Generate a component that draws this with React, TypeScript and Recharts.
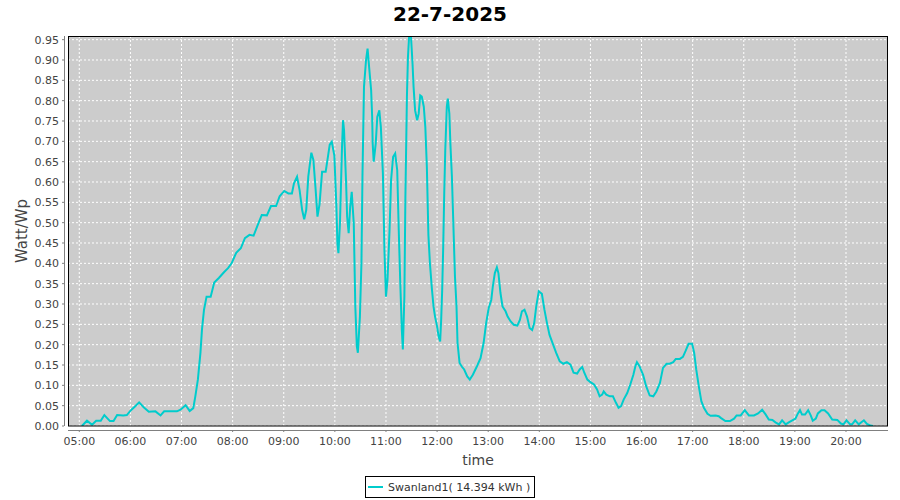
import { LineChart, Line, XAxis, YAxis, CartesianGrid } from "recharts";

// time of day in decimal hours
const hours = [
  5.05, 5.15, 5.25, 5.33, 5.42, 5.49, 5.6, 5.67, 5.74, 5.86, 5.93, 6.01, 6.1, 6.17, 6.26, 6.36, 6.49, 6.59,
  6.66, 6.78, 6.91, 6.98, 7.08, 7.16, 7.23, 7.27, 7.32, 7.37, 7.4, 7.44, 7.49, 7.57, 7.64, 7.73, 7.83, 7.91,
  7.98, 8.07, 8.16, 8.24, 8.33, 8.41, 8.49, 8.57, 8.67, 8.75, 8.85, 8.92, 9.01, 9.09, 9.16, 9.2, 9.26, 9.31,
  9.36, 9.4, 9.44, 9.48, 9.54, 9.58, 9.62, 9.66, 9.7, 9.75, 9.82, 9.9, 9.94, 9.99, 10.03, 10.05, 10.07, 10.1,
  10.14, 10.16, 10.18, 10.22, 10.24, 10.27, 10.3, 10.33, 10.37, 10.4, 10.43, 10.45, 10.49, 10.52, 10.54,
  10.57, 10.61, 10.64, 10.67, 10.71, 10.73, 10.74, 10.76, 10.8, 10.83, 10.87, 10.9, 10.94, 10.97, 11.0,
  11.03, 11.07, 11.1, 11.14, 11.18, 11.22, 11.25, 11.28, 11.31, 11.33, 11.36, 11.38, 11.41, 11.43, 11.46,
  11.49, 11.52, 11.54, 11.57, 11.61, 11.64, 11.67, 11.7, 11.74, 11.77, 11.8, 11.83, 11.86, 11.9, 11.93,
  11.96, 12.0, 12.03, 12.06, 12.08, 12.1, 12.12, 12.14, 12.16, 12.19, 12.21, 12.24, 12.26, 12.29, 12.31,
  12.33, 12.35, 12.38, 12.4, 12.44, 12.49, 12.53, 12.59, 12.64, 12.7, 12.78, 12.85, 12.91, 12.96, 13.01,
  13.06, 13.09, 13.13, 13.17, 13.2, 13.24, 13.28, 13.34, 13.38, 13.44, 13.5, 13.57, 13.62, 13.66, 13.71,
  13.76, 13.81, 13.86, 13.9, 13.94, 13.99, 14.05, 14.1, 14.15, 14.2, 14.27, 14.33, 14.4, 14.47, 14.54,
  14.61, 14.67, 14.74, 14.79, 14.84, 14.88, 14.94, 15.0, 15.07, 15.13, 15.18, 15.23, 15.26, 15.31, 15.38,
  15.44, 15.5, 15.55, 15.6, 15.65, 15.72, 15.78, 15.84, 15.88, 15.91, 15.96, 16.03, 16.09, 16.16, 16.23,
  16.29, 16.36, 16.42, 16.49, 16.55, 16.62, 16.67, 16.75, 16.81, 16.86, 16.92, 16.99, 17.03, 17.07, 17.12,
  17.17, 17.22, 17.29, 17.35, 17.45, 17.51, 17.55, 17.64, 17.73, 17.81, 17.86, 17.94, 18.02, 18.1, 18.2,
  18.28, 18.36, 18.43, 18.49, 18.56, 18.62, 18.69, 18.75, 18.82, 18.88, 18.95, 19.01, 19.06, 19.1, 19.14,
  19.2, 19.26, 19.31, 19.35, 19.41, 19.45, 19.52, 19.58, 19.65, 19.73, 19.83, 19.9, 19.95, 20.01, 20.08,
  20.12, 20.18, 20.25, 20.35, 20.41, 20.48, 20.53,
];

// Watt/Wp for each time above
const watts = [
  0.0, 0.013, 0.003, 0.013, 0.013, 0.027, 0.012, 0.012, 0.027, 0.026, 0.027, 0.039, 0.049, 0.058, 0.046,
  0.035, 0.036, 0.026, 0.036, 0.036, 0.036, 0.04, 0.051, 0.037, 0.044, 0.073, 0.114, 0.18, 0.237, 0.286,
  0.318, 0.318, 0.353, 0.364, 0.378, 0.388, 0.4, 0.426, 0.437, 0.462, 0.47, 0.468, 0.494, 0.519, 0.518,
  0.541, 0.541, 0.565, 0.578, 0.572, 0.572, 0.597, 0.613, 0.58, 0.531, 0.508, 0.531, 0.613, 0.672, 0.654,
  0.588, 0.515, 0.545, 0.625, 0.625, 0.692, 0.699, 0.665, 0.54, 0.449, 0.425, 0.5, 0.686, 0.752, 0.727,
  0.597, 0.515, 0.474, 0.539, 0.576, 0.498, 0.294, 0.196, 0.18, 0.269, 0.4, 0.613, 0.834, 0.9, 0.928, 0.883,
  0.825, 0.76, 0.695, 0.65, 0.695, 0.76, 0.776, 0.735, 0.621, 0.433, 0.318, 0.359, 0.482, 0.605, 0.662,
  0.67, 0.629, 0.482, 0.351, 0.237, 0.188, 0.318, 0.564, 0.81, 0.907, 0.975, 0.956, 0.89, 0.834, 0.776,
  0.752, 0.768, 0.813, 0.81, 0.785, 0.735, 0.637, 0.47, 0.4, 0.335, 0.294, 0.269, 0.245, 0.22, 0.208, 0.261,
  0.335, 0.441, 0.572, 0.678, 0.785, 0.805, 0.768, 0.695, 0.613, 0.531, 0.449, 0.367, 0.294, 0.204, 0.155,
  0.145, 0.139, 0.122, 0.114, 0.126, 0.147, 0.167, 0.204, 0.253, 0.29, 0.31, 0.343, 0.376, 0.39, 0.376,
  0.327, 0.294, 0.282, 0.269, 0.257, 0.249, 0.247, 0.261, 0.282, 0.286, 0.269, 0.241, 0.236, 0.253, 0.294,
  0.331, 0.325, 0.286, 0.253, 0.224, 0.2, 0.18, 0.159, 0.153, 0.157, 0.151, 0.131, 0.129, 0.139, 0.145,
  0.131, 0.114, 0.108, 0.102, 0.09, 0.073, 0.077, 0.085, 0.077, 0.073, 0.073, 0.057, 0.045, 0.049, 0.065,
  0.081, 0.102, 0.126, 0.147, 0.157, 0.147, 0.126, 0.098, 0.075, 0.073, 0.085, 0.106, 0.143, 0.153, 0.153,
  0.157, 0.165, 0.165, 0.17, 0.184, 0.202, 0.202, 0.18, 0.139, 0.098, 0.061, 0.045, 0.03, 0.025, 0.026,
  0.024, 0.02, 0.012, 0.012, 0.018, 0.026, 0.026, 0.039, 0.026, 0.026, 0.031, 0.04, 0.028, 0.016, 0.015,
  0.009, 0.004, 0.014, 0.004, 0.009, 0.014, 0.018, 0.031, 0.039, 0.028, 0.028, 0.039, 0.026, 0.013, 0.018,
  0.031, 0.039, 0.039, 0.031, 0.016, 0.015, 0.006, 0.004, 0.014, 0.004, 0.004, 0.014, 0.004, 0.014, 0.005,
  0.001, 0.0,
];

const hourTicks = [5, 6, 7, 8, 9, 10, 11, 12, 13, 14, 15, 16, 17, 18, 19, 20];
const wattTicks = [
  0, 0.05, 0.1, 0.15, 0.2, 0.25, 0.3, 0.35, 0.4, 0.45, 0.5, 0.55, 0.6, 0.65, 0.7, 0.75, 0.8, 0.85, 0.9, 0.95,
];

const title = "22-7-2025";
const seriesName = "Swanland1( 14.394 kWh )";

const data = hours.map((h, i) => ({ h, w: watts[i] }));

const FONT = "'DejaVu Sans', sans-serif";
const CYAN = "#00cccc";

function YTick(props: any) {
  const { x, y, payload } = props;
  return (
    <g>
      <line x1={x - 6} x2={x - 4} y1={y} y2={y} stroke="#808080" />
      <text x={x - 9} y={y + 4} textAnchor="end" fontSize={11} fill="#444" fontFamily={FONT}>
        {Number(payload.value).toFixed(2)}
      </text>
    </g>
  );
}

function XTick(props: any) {
  const { x, y, payload } = props;
  const label = String(payload.value).padStart(2, "0") + ":00";
  return (
    <g>
      <line x1={x} x2={x} y1={y + 4} y2={y + 6} stroke="#808080" />
      <text x={x} y={y + 19} textAnchor="middle" fontSize={11} fill="#444" fontFamily={FONT}>
        {label}
      </text>
    </g>
  );
}

export default function App() {
  return (
    <div style={{ position: "absolute", left: 0, top: 0, width: 900, height: 500, background: "#fff" }}>
      <LineChart
        width={900}
        height={500}
        data={data}
        margin={{ top: 36, right: 12, bottom: 44, left: 8 }}
      >
        <CartesianGrid stroke="#ffffff" strokeDasharray="2 2" fill="#cccccc" fillOpacity={1} />
        <XAxis
          dataKey="h"
          type="number"
          domain={[4.779, 20.822]}
          ticks={hourTicks}
          interval={0}
          allowDataOverflow
          height={30}
          tickSize={0}
          tickMargin={0}
          axisLine={false}
          tickLine={false}
          tick={<XTick />}
          label={{
            content: (p: any) => (
              <text
                x={p.viewBox.x + p.viewBox.width / 2}
                y={p.viewBox.y + 39}
                textAnchor="middle"
                fontSize={14}
                fill="#444"
                fontFamily={FONT}
              >
                time
              </text>
            ),
          }}
        />
        <YAxis
          type="number"
          domain={[0, 0.959]}
          ticks={wattTicks}
          interval={0}
          allowDataOverflow
          width={60}
          tickSize={0}
          tickMargin={0}
          axisLine={false}
          tickLine={false}
          tick={<YTick />}
          label={{
            content: (p: any) => {
              const cx = p.viewBox.x + 14;
              const cy = p.viewBox.y + p.viewBox.height / 2;
              return (
                <text
                  x={cx}
                  y={cy}
                  transform={`rotate(-90 ${cx} ${cy})`}
                  textAnchor="middle"
                  dominantBaseline="central"
                  fontSize={15}
                  fill="#444"
                  fontFamily={FONT}
                >
                  Watt/Wp
                </text>
              );
            },
          }}
        />
        <Line
          type="linear"
          dataKey="w"
          stroke={CYAN}
          strokeWidth={2}
          dot={false}
          activeDot={false}
          isAnimationActive={false}
        />
      </LineChart>
      <svg
        width={900}
        height={500}
        style={{ position: "absolute", left: 0, top: 0, pointerEvents: "none" }}
      >
        <text x={450} y={21} textAnchor="middle" fontSize={20} fontWeight="bold" fill="#000" fontFamily={FONT}>
          {title}
        </text>
        <rect x={68.5} y={36.5} width={819} height={389.5} fill="none" stroke="#000" />
        <line x1={64.5} x2={64.5} y1={36} y2={426} stroke="#808080" />
        <line x1={68} x2={888} y1={430.5} y2={430.5} stroke="#808080" />
      </svg>
      <div
        style={{
          position: "absolute",
          left: 365,
          top: 476,
          height: 22,
          border: "1px solid #000",
          display: "flex",
          alignItems: "center",
          padding: "0 4px 0 2px",
          fontFamily: FONT,
          fontSize: 11,
          color: "#333",
          boxSizing: "border-box",
        }}
      >
        <span style={{ display: "inline-block", width: 15, height: 2, background: CYAN, marginRight: 5 }} />
        {seriesName}
      </div>
    </div>
  );
}
